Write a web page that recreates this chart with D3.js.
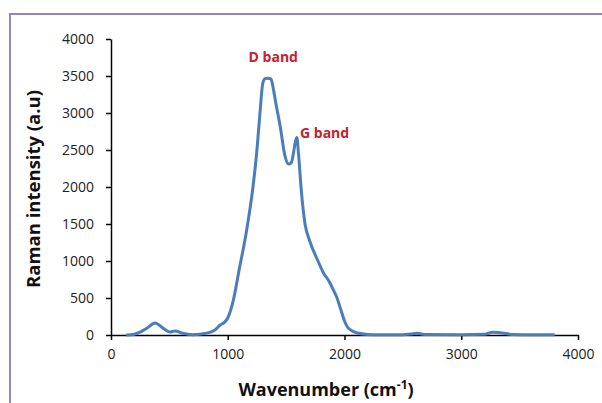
<!DOCTYPE html>
<html>
<head>
<meta charset="utf-8">
<script src="https://cdn.jsdelivr.net/npm/d3@7"></script>
<style>
  body { margin: 0; background: #fff; }
  svg { display: block; font-family: "Open Sans", Lato, sans-serif; }
  .axis path, .axis line { stroke: #000; stroke-width: 1.5px; }
  .axis text { font-size: 14px; fill: #222; font-family: "Open Sans", Lato, sans-serif; }
</style>
</head>
<body>
<div id="chart"></div>
<script>
// Raman spectrum, values
const wavenumber = [130, 200, 250, 310, 377, 440, 505, 548, 610, 700, 820, 890, 935, 970, 1000, 1045, 1100,
  1160, 1216, 1250, 1276, 1300, 1320, 1340, 1370, 1390, 1410, 1450, 1490, 1520, 1545, 1565, 1580,
  1592, 1605, 1630, 1662, 1700, 1773, 1820, 1870, 1905, 1936, 1965, 2000, 2025, 2060, 2110, 2200, 2300,
  2500, 2570, 2620, 2700, 3000, 3200, 3270, 3330, 3450, 3600, 3800];
const intensity = [0, 10, 40, 95, 162, 100, 40, 54, 25, 5, 25, 68, 135, 170, 230, 450, 900,
  1400, 2000, 2500, 3000, 3400, 3465, 3470, 3460, 3330, 3150, 2810, 2420, 2310, 2330, 2480, 2620,
  2670, 2470, 1950, 1500, 1280, 1000, 838, 720, 608, 500, 360, 190, 108, 60, 27, 8, 4,
  5, 15, 22, 6, 5, 10, 38, 30, 6, 3, 3];

const xTicks = [0, 1000, 2000, 3000, 4000];
const yTicks = [0, 500, 1000, 1500, 2000, 2500, 3000, 3500, 4000];
const bands = [
  { label: "D band", x: 1390, y: 3690, anchor: "middle" },
  { label: "G band", x: 1619, y: 2660, anchor: "start" }
];

const width = 602, height = 403;
const margin = { top: 39, right: 24, bottom: 68, left: 111 };

const svg = d3.select("#chart").append("svg")
  .attr("width", width)
  .attr("height", height);

// purple frame around the figure
svg.append("rect")
  .attr("x", 10).attr("y", 14)
  .attr("width", 620).attr("height", 420)
  .attr("fill", "none")
  .attr("stroke", "#9a84bd")
  .attr("stroke-width", 2);

const x = d3.scaleLinear().domain([0, 4000]).range([margin.left, width - margin.right]);
const y = d3.scaleLinear().domain([0, 4000]).range([height - margin.bottom, margin.top]);

const data = wavenumber.map(function(w, i) { return { x: w, y: intensity[i] }; });

const line = d3.line()
  .x(function(d) { return x(d.x); })
  .y(function(d) { return y(d.y); })
  .curve(d3.curveMonotoneX);

// x-axis
svg.append("g")
  .attr("class", "axis")
  .attr("transform", "translate(0," + y(0) + ")")
  .call(d3.axisBottom(x).tickValues(xTicks).tickFormat(d3.format("d"))
    .tickSizeInner(5).tickSizeOuter(0).tickPadding(6))
  .selectAll("text").attr("dy", "0.9em");

// y-axis
svg.append("g")
  .attr("class", "axis")
  .attr("transform", "translate(" + x(0) + ",0)")
  .call(d3.axisLeft(y).tickValues(yTicks).tickFormat(d3.format("d"))
    .tickSizeInner(5).tickSizeOuter(0).tickPadding(12));

// spectrum
svg.append("path")
  .datum(data)
  .attr("fill", "none")
  .attr("stroke", "#4a7ebb")
  .attr("stroke-width", 3)
  .attr("stroke-linejoin", "round")
  .attr("d", line);

// band labels
svg.selectAll("text.band")
  .data(bands)
  .enter().append("text")
  .attr("class", "band")
  .attr("x", function(d) { return x(d.x); })
  .attr("y", function(d) { return y(d.y); })
  .attr("text-anchor", function(d) { return d.anchor; })
  .attr("fill", "#c8202e")
  .style("font-size", "14px")
  .style("font-weight", "bold")
  .text(function(d) { return d.label; });

// axis titles
svg.append("text")
  .attr("transform", "translate(40,189) rotate(-90)")
  .attr("text-anchor", "middle")
  .style("font-size", "18.5px")
  .style("font-weight", "bold")
  .attr("fill", "#111")
  .text("Raman intensity (a.u)");

const xt = svg.append("text")
  .attr("x", 326)
  .attr("y", 396)
  .attr("text-anchor", "middle")
  .style("font-size", "18px")
  .style("font-weight", "bold")
  .attr("fill", "#111");
xt.append("tspan").text("Wavenumber (cm");
xt.append("tspan").attr("dy", -7).style("font-size", "12px").text("-1");
xt.append("tspan").attr("dy", 7).text(")");
</script>
</body>
</html>
